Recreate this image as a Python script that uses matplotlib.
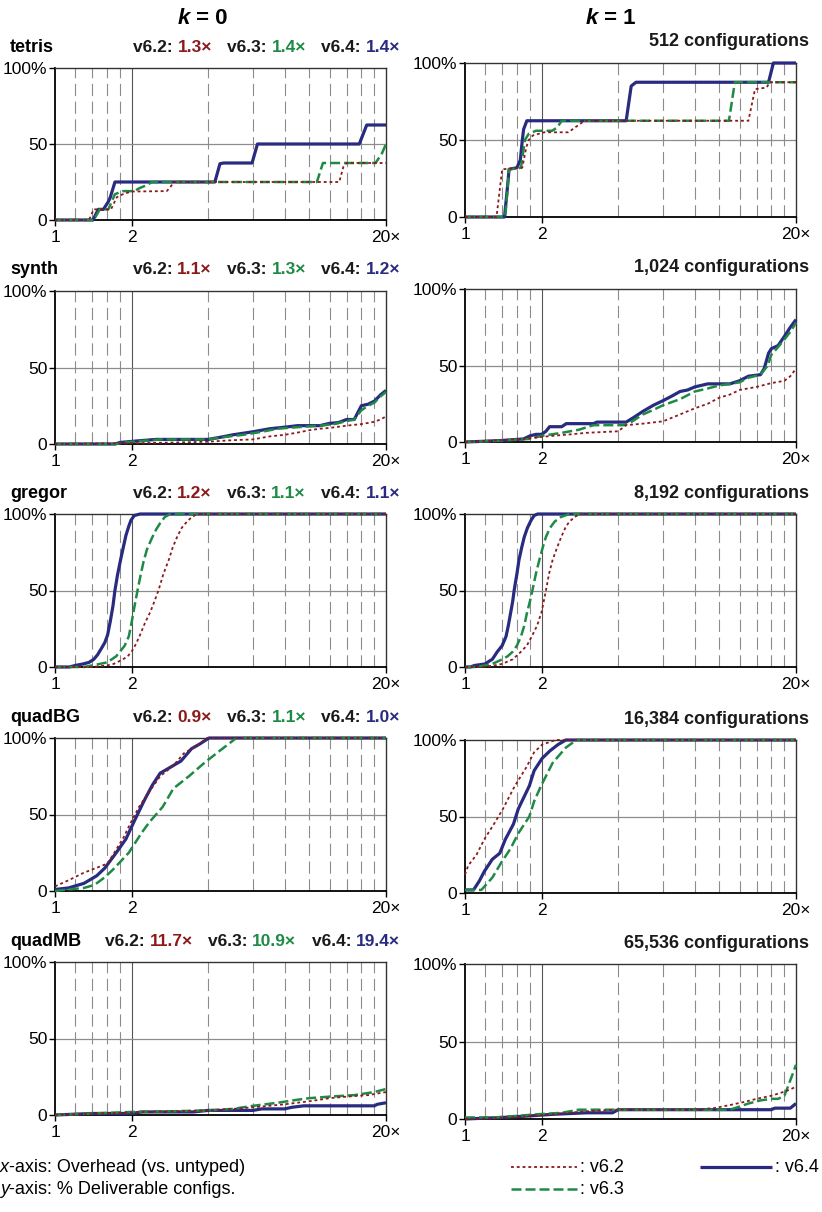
import matplotlib.pyplot as plt
from matplotlib.lines import Line2D

plt.rcParams['font.family'] = ['Liberation Sans', 'DejaVu Sans']

W, H = 822, 1212

versions = ['v6.2', 'v6.3', 'v6.4']
colors = ['#8b1a1a', '#1f8a45', '#292b80']

benchmarks = ['tetris', 'synth', 'gregor', 'quadBG', 'quadMB']
configs = ['512', '1,024', '8,192', '16,384', '65,536']
overheads = [['1.3×', '1.4×', '1.4×'],
             ['1.1×', '1.3×', '1.2×'],
             ['1.2×', '1.1×', '1.1×'],
             ['0.9×', '1.1×', '1.0×'],
             ['11.7×', '10.9×', '19.4×']]

# (overhead, % deliverable)
tetris_k0_v62 = [(1, 0), (1.36, 0), (1.42, 7), (1.66, 7), (1.75, 15), (1.85, 17), (2.0, 18.75), (2.75, 19), (2.85, 22), (2.93, 25), (13.1, 25), (13.6, 35), (14.0, 37.5), (20, 37.5)]
tetris_k0_v63 = [(1, 0), (1.42, 0), (1.5, 7), (1.62, 7), (1.68, 13), (1.72, 17), (1.85, 19), (2.05, 19), (2.15, 21), (2.3, 23), (2.4, 25), (10.7, 25), (11.3, 37.5), (18.2, 37.5), (19.3, 44), (20, 50)]
tetris_k0_v64 = [(1, 0), (1.41, 0), (1.48, 7), (1.55, 7), (1.62, 12), (1.65, 15), (1.72, 25), (4.25, 25), (4.45, 37), (4.6, 37.5), (5.95, 37.5), (6.25, 50), (15.7, 50), (16.8, 62.5), (20, 62.5)]

tetris_k1_v62 = [(1, 0), (1.33, 0), (1.4, 31), (1.68, 32), (1.74, 45), (1.78, 50), (1.85, 53), (2.05, 55), (2.55, 55), (2.7, 58), (2.95, 62.5), (13.0, 62.5), (13.8, 83), (15.3, 84), (15.8, 87.5), (20, 87.5)]
tetris_k1_v63 = [(1, 0), (1.44, 0), (1.49, 31), (1.66, 32), (1.72, 50), (1.78, 54), (1.9, 56), (2.2, 56), (2.3, 58), (2.4, 62.5), (10.9, 62.5), (11.5, 87.5), (20, 87.5)]
tetris_k1_v64 = [(1, 0), (1.43, 0), (1.47, 20), (1.49, 31), (1.6, 32), (1.65, 37), (1.68, 50), (1.7, 57), (1.75, 62.5), (4.3, 62.5), (4.5, 85), (4.7, 87.5), (15.6, 87.5), (16.3, 100), (20, 100)]

synth_k0_v62 = [(1, 0), (2, 0.5), (3, 1), (4, 1.5), (5, 2.5), (6, 3), (7, 5), (8, 6), (9, 7.5), (10, 9), (11, 10), (12, 10.5), (14, 12), (16, 13), (18, 14.5), (19, 16), (20, 18)]
synth_k0_v63 = [(1, 0), (1.75, 0), (1.85, 1), (2.2, 2), (2.6, 3), (4, 3), (4.6, 4.5), (5.5, 6), (6.5, 8), (7.5, 10), (9, 11), (11, 12), (12.5, 13), (14, 15), (15, 16), (16, 22), (17, 25), (18, 27), (19, 31), (20, 34)]
synth_k0_v64 = [(1, 0), (1.72, 0), (1.8, 1), (2.1, 2), (2.5, 3), (4, 3), (4.5, 4.5), (5, 6), (6, 8), (7, 10), (8, 11), (9, 12), (11, 12), (12, 13.5), (13, 14), (14, 16), (15, 16), (16, 25), (17, 26), (18, 28), (19, 32), (20, 35)]

synth_k1_v62 = [(1, 0), (1.3, 1), (1.7, 2), (1.9, 3), (2.2, 4), (2.6, 5), (3, 6), (4, 7), (4.3, 11), (5, 12), (6, 13.5), (7, 18), (8, 22), (9, 25), (10, 29), (11, 31), (12, 34), (14, 36), (16, 38.5), (18, 40), (19, 43), (20, 48)]
synth_k1_v63 = [(1, 0), (1.4, 1), (1.8, 2), (2, 4), (2.4, 6), (2.8, 8), (3.2, 11), (4.2, 11), (4.5, 13), (5, 18), (5.5, 21), (6, 24), (7, 28), (8, 33), (9, 35), (10, 37), (11, 38), (12, 39), (13, 42), (14.5, 44), (15.5, 50), (16, 57), (17, 62), (18, 67), (19, 72), (20, 78)]
synth_k1_v64 = [(1, 0), (1.2, 0.5), (1.4, 1), (1.7, 2), (1.8, 4), (1.9, 5), (2, 5), (2.08, 7), (2.15, 10), (2.4, 10), (2.5, 12), (3.2, 12), (3.3, 13), (4.3, 13), (4.6, 16), (5, 20), (5.5, 24), (6, 27), (6.5, 30), (7, 33), (7.5, 34), (8, 36), (9, 38), (11, 38), (12, 40), (13, 43), (14.5, 44), (15, 48), (15.6, 58), (16, 61), (17, 63), (18, 69), (19, 75), (20, 80)]

gregor_k0_v62 = [(1, 0), (1.4, 0), (1.6, 1), (1.7, 2), (1.85, 5), (1.93, 7), (2.0, 10), (2.08, 15), (2.16, 21), (2.26, 29), (2.37, 36), (2.46, 43), (2.55, 50), (2.67, 61), (2.8, 70), (2.9, 78), (3.02, 85), (3.15, 91), (3.3, 95), (3.45, 98), (3.62, 100), (20, 100)]
gregor_k0_v63 = [(1, 0), (1.3, 0), (1.5, 2), (1.6, 3), (1.67, 5), (1.74, 7), (1.8, 10), (1.88, 14), (1.95, 20), (2.0, 29), (2.05, 39), (2.11, 50), (2.17, 60), (2.23, 69), (2.3, 77), (2.4, 84), (2.5, 90), (2.59, 94), (2.7, 98), (2.84, 100), (20, 100)]
gregor_k0_v64 = [(1, 0), (1.14, 0), (1.2, 1), (1.29, 2), (1.36, 3), (1.42, 5), (1.47, 8), (1.52, 12), (1.57, 16), (1.61, 21), (1.65, 30), (1.69, 40), (1.72, 50), (1.76, 60), (1.81, 70), (1.86, 79), (1.9, 86), (1.95, 92), (1.99, 96), (2.05, 99), (2.16, 100), (20, 100)]

gregor_k1_v62 = [(1, 0), (1.17, 0), (1.3, 1), (1.4, 2), (1.54, 5), (1.66, 10), (1.75, 14), (1.83, 20), (1.92, 27), (2.0, 36), (2.04, 43), (2.08, 50), (2.14, 61), (2.21, 70), (2.3, 78), (2.39, 85), (2.48, 91), (2.57, 95), (2.7, 98), (2.82, 100), (20, 100)]
gregor_k1_v63 = [(1, 0), (1.1, 0), (1.2, 1), (1.28, 2), (1.4, 5), (1.47, 7), (1.54, 10), (1.6, 14), (1.66, 20), (1.71, 27), (1.75, 35), (1.8, 43), (1.84, 50), (1.9, 61), (1.96, 70), (2.02, 78), (2.08, 85), (2.16, 91), (2.25, 95), (2.38, 98), (2.57, 100), (20, 100)]
gregor_k1_v64 = [(1, 0), (1.05, 0), (1.09, 1), (1.2, 2), (1.25, 4), (1.28, 5), (1.34, 10), (1.4, 14), (1.45, 20), (1.48, 27), (1.51, 35), (1.54, 43), (1.56, 50), (1.6, 61), (1.63, 70), (1.67, 78), (1.71, 85), (1.76, 91), (1.82, 96), (1.87, 99), (1.93, 100), (20, 100)]

quadBG_k0_v62 = [(1, 3), (1.13, 7), (1.3, 12), (1.45, 15), (1.61, 18), (1.71, 25), (1.86, 35), (1.99, 45), (2.14, 55), (2.35, 65), (2.59, 75), (2.92, 82), (3.21, 90), (3.61, 95), (3.97, 100), (20, 100)]
quadBG_k0_v63 = [(1, 0), (1.13, 1), (1.3, 2), (1.43, 4), (1.57, 9), (1.69, 14), (1.95, 25), (2.19, 38), (2.35, 45), (2.65, 55), (2.92, 67), (3.36, 75), (3.88, 84), (4.47, 92), (5.16, 100), (20, 100)]
quadBG_k0_v64 = [(1, 1), (1.13, 2), (1.3, 5), (1.46, 10), (1.57, 15), (1.74, 25), (1.9, 34), (2.04, 45), (2.24, 59), (2.41, 69), (2.59, 77), (2.85, 81), (3.13, 85), (3.44, 93), (3.7, 96), (4.03, 100), (20, 100)]

quadBG_k1_v62 = [(1, 12), (1.03, 18), (1.11, 25), (1.19, 35), (1.31, 46), (1.41, 55), (1.57, 70), (1.74, 82), (1.87, 92), (2.01, 97), (2.27, 100), (20, 100)]
quadBG_k1_v63 = [(1, 2), (1.16, 2), (1.28, 10), (1.39, 20), (1.51, 29), (1.62, 39), (1.79, 50), (1.87, 60), (1.99, 70), (2.21, 85), (2.49, 95), (2.74, 100), (20, 100)]
quadBG_k1_v64 = [(1, 2), (1.08, 2), (1.14, 8), (1.19, 14), (1.28, 22), (1.37, 26), (1.44, 35), (1.55, 45), (1.62, 55), (1.79, 70), (1.87, 80), (2.01, 88), (2.16, 93), (2.32, 97), (2.49, 100), (20, 100)]

quadMB_k0_v62 = [(1, 0), (1.5, 1), (2.3, 2), (4, 3), (5, 4), (6, 5), (8, 7), (10, 9), (12, 11), (14, 12), (17, 13), (20, 15)]
quadMB_k0_v63 = [(1, 0), (1.4, 1), (2, 2), (3, 2.5), (4, 3), (5, 4), (6, 6), (7.5, 8), (9, 10), (10, 11), (12, 12), (15, 13), (18, 15), (20, 17)]
quadMB_k0_v64 = [(1, 0), (1.4, 1), (2, 1), (2.2, 2), (3.5, 2), (4, 3), (6, 3), (6.5, 4), (8, 4), (8.5, 5), (9.5, 6), (18, 6), (18.5, 7), (20, 8)]

quadMB_k1_v62 = [(1, 0), (1.5, 1), (1.8, 2), (2.2, 3), (3, 5), (4, 6), (8, 6), (9.5, 7), (11, 9), (12.5, 11), (14, 13), (16, 15), (17.5, 17), (19, 19), (20, 21)]
quadMB_k1_v63 = [(1, 1), (1.3, 1), (1.6, 2), (1.9, 3), (2.4, 4), (2.8, 6), (11, 6), (12, 8), (13, 10), (14.5, 12), (16, 13), (17, 13), (18, 15), (18.5, 20), (19.3, 28), (20, 35)]
quadMB_k1_v64 = [(1, 0), (1.4, 1), (1.8, 2), (2.2, 3), (3, 4), (3.8, 4), (4, 6), (16, 6), (16.5, 7), (19, 7), (20, 10)]

k0_data = [(tetris_k0_v62, tetris_k0_v63, tetris_k0_v64),
           (synth_k0_v62, synth_k0_v63, synth_k0_v64),
           (gregor_k0_v62, gregor_k0_v63, gregor_k0_v64),
           (quadBG_k0_v62, quadBG_k0_v63, quadBG_k0_v64),
           (quadMB_k0_v62, quadMB_k0_v63, quadMB_k0_v64)]
k1_data = [(tetris_k1_v62, tetris_k1_v63, tetris_k1_v64),
           (synth_k1_v62, synth_k1_v63, synth_k1_v64),
           (gregor_k1_v62, gregor_k1_v63, gregor_k1_v64),
           (quadBG_k1_v62, quadBG_k1_v63, quadBG_k1_v64),
           (quadMB_k1_v62, quadMB_k1_v63, quadMB_k1_v64)]

# panel boxes in pixels (top, bottom)
left_rows = [(68, 220), (291, 444), (514, 667), (738, 891), (962, 1115)]
right_rows = [(63, 217), (289, 442), (514, 667), (740, 893), (964, 1119)]
left_x = (55, 386)
right_x = (465, 796)

styles = [dict(lw=1.3, dashes=(1.6, 1.6), zorder=6),
          dict(lw=1.8, dashes=(4, 1.6), zorder=5),
          dict(lw=2.3, linestyle='-', zorder=4)]

fig = plt.figure(figsize=(W / 100, H / 100), dpi=100)
bg = fig.add_axes([0, 0, 1, 1])
bg.set_xlim(0, W)
bg.set_ylim(H, 0)
bg.axis('off')


def add_panel(xs, rows, series):
    x0, x1 = xs
    top, bot = rows
    ax = fig.add_axes([x0 / W, 1 - bot / H, (x1 - x0) / W, (bot - top) / H])
    ax.set_xscale('log')
    ax.set_xlim(1, 20)
    ax.set_ylim(0, 100)
    for gx in [1.2, 1.4, 1.6, 1.8, 4, 6, 8, 10, 12, 14, 16, 18]:
        ax.axvline(gx, color='#8c8c8c', lw=0.8, dashes=(11, 5), zorder=1)
    ax.axvline(2, color='#555555', lw=0.8, zorder=1)
    ax.axhline(50, color='#8c8c8c', lw=0.9, zorder=1)
    for pts, col, st in zip(series, colors, styles):
        ax.plot([p[0] for p in pts], [p[1] for p in pts], color=col,
                clip_on=False, solid_capstyle='butt', **st)
    ax.minorticks_off()
    ax.set_xticks([1, 2, 20])
    ax.set_xticklabels(['1', '2', '20×'])
    ax.set_yticks([0, 50, 100])
    ax.set_yticklabels(['0', '50', '100%'])
    ax.tick_params(length=4, width=1, direction='out', labelsize=12.5, pad=1.5)
    ax.tick_params(axis='x', pad=3)
    for side in ['left', 'bottom']:
        ax.spines[side].set_linewidth(1.3)
        ax.spines[side].set_color('black')
    for side in ['top', 'right']:
        ax.spines[side].set_linewidth(1.0)
        ax.spines[side].set_color('#333333')
    return ax


def chain_left(first, parts, gap=0):
    # place parts one after another, right to left, starting from text `first`
    prev = first
    for s, kw in parts:
        prev = bg.annotate(s, xy=(0, 0), xycoords=prev, xytext=(-kw.pop('gap', gap), 0),
                           textcoords='offset points', ha='right', va='bottom', **kw)
    return prev


for i in range(5):
    top_l = left_rows[i][0]
    top_r = right_rows[i][0]
    add_panel(left_x, left_rows[i], k0_data[i])
    add_panel(right_x, right_rows[i], k1_data[i])

    yl = top_l - 21
    bg.text(10, yl, benchmarks[i], fontsize=13, fontweight='bold', ha='left', va='center')
    last = bg.text(400, yl, overheads[i][2], fontsize=12.5, fontweight='bold',
                   color=colors[2], ha='right', va='center')
    parts = []
    for j in [2, 1, 0]:
        if j < 2:
            parts.append((overheads[i][j], dict(fontsize=12.5, fontweight='bold', color=colors[j], gap=11)))
        parts.append((versions[j] + ': ', dict(fontsize=12.5, fontweight='bold', color='#1a1a1a')))
    chain_left(last, parts)

    bg.text(809, top_r - 21, configs[i] + ' configurations', fontsize=13,
            fontweight='bold', ha='right', va='center', color='#1a1a1a')

# column titles
for cx, lab in [(190, ' = 0'), (598, ' = 1')]:
    t = bg.text(cx, 19, lab, fontsize=16, fontweight='bold', ha='left', va='center')
    bg.annotate('k', xy=(0, 0), xycoords=t, ha='right', va='bottom', fontsize=16,
                fontweight='bold', fontstyle='italic')

# footer
t = bg.text(0, 1167, 'x', fontsize=13, fontstyle='italic', ha='left', va='center')
bg.annotate('-axis: Overhead (vs. untyped)', xy=(1, 0), xycoords=t, ha='left', va='bottom', fontsize=13)
t = bg.text(0, 1189, 'y', fontsize=13, fontstyle='italic', ha='left', va='center')
bg.annotate('-axis: % Deliverable configs.', xy=(1, 0), xycoords=t, ha='left', va='bottom', fontsize=13)

legend_pos = [(511, 577, 1167), (511, 577, 1189), (700, 772, 1167)]
for (lx0, lx1, ly), col, st, v in zip(legend_pos, colors, styles, versions):
    kw = dict(st)
    kw.pop('zorder')
    bg.add_line(Line2D([lx0, lx1], [ly, ly], color=col, solid_capstyle='butt', **kw))
    bg.text(lx1 + 3, ly, ': ' + v, fontsize=13, ha='left', va='center')

fig.savefig('out.png', dpi=100)
